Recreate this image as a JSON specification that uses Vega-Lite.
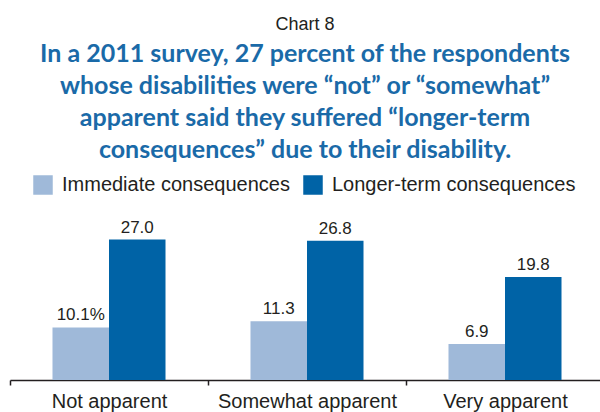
{
  "$schema": "https://vega.github.io/schema/vega-lite/v6.json",
  "autosize": {"type": "none"},
  "padding": {"left": 10, "top": 224, "right": 0, "bottom": 32},
  "width": 590,
  "height": 156,
  "background": "white",
  "title": {
    "text": "Chart 8",
    "subtitle": ["In a 2011 survey, 27 percent of the respondents", "whose disabilities were “not” or “somewhat”", "apparent said they suffered “longer-term", "consequences” due to their disability."],
    "anchor": "middle",
    "frame": "group",
    "font": "Liberation Sans",
    "fontSize": 18,
    "fontWeight": "normal",
    "color": "#231f20",
    "subtitleFont": "Lato",
    "subtitleFontSize": 25,
    "subtitleFontWeight": "bold",
    "subtitleColor": "#1a6aa8",
    "subtitleLineHeight": 32,
    "subtitlePadding": 8,
    "offset": 12
  },
  "data": {
    "values": [
      {"group": "Not apparent", "series": "Immediate consequences", "value": 10.1, "label": "10.1%"},
      {"group": "Not apparent", "series": "Longer-term consequences", "value": 27.0, "label": "27.0"},
      {"group": "Somewhat apparent", "series": "Immediate consequences", "value": 11.3, "label": "11.3"},
      {"group": "Somewhat apparent", "series": "Longer-term consequences", "value": 26.8, "label": "26.8"},
      {"group": "Very apparent", "series": "Immediate consequences", "value": 6.9, "label": "6.9"},
      {"group": "Very apparent", "series": "Longer-term consequences", "value": 19.8, "label": "19.8"}
    ]
  },
  "encoding": {
    "x": {
      "field": "group",
      "type": "nominal",
      "sort": ["Not apparent", "Somewhat apparent", "Very apparent"],
      "scale": {"range": [0, 594], "paddingInner": 0, "paddingOuter": 0},
      "axis": {
        "title": null,
        "labelAngle": 0,
        "tickBand": "extent",
        "domainColor": "#231f20",
        "domainWidth": 1.5,
        "tickColor": "#231f20",
        "tickWidth": 1.5,
        "tickSize": 5,
        "labelFont": "Liberation Sans",
        "labelFontSize": 20,
        "labelColor": "#231f20",
        "labelPadding": 6,
        "grid": false
      }
    },
    "xOffset": {
      "field": "series",
      "type": "nominal",
      "sort": ["Immediate consequences", "Longer-term consequences"],
      "scale": {"paddingInner": 0, "paddingOuter": 0.752}
    },
    "y": {
      "field": "value",
      "type": "quantitative",
      "scale": {"domain": [0, 30]},
      "axis": null
    }
  },
  "layer": [
    {
      "mark": {"type": "bar"},
      "encoding": {
        "color": {
          "field": "series",
          "type": "nominal",
          "scale": {"domain": ["Immediate consequences", "Longer-term consequences"], "range": ["#9fb9d9", "#0063a6"]},
          "legend": {
            "title": null,
            "orient": "none",
            "legendX": 23,
            "legendY": -49,
            "direction": "horizontal",
            "symbolType": "square",
            "symbolSize": 380,
            "symbolStrokeWidth": 0,
            "labelFont": "Liberation Sans",
            "labelFontSize": 20,
            "labelColor": "#231f20",
            "labelOffset": 9,
            "labelLimit": 400,
            "columnPadding": 13
          }
        }
      }
    },
    {
      "mark": {"type": "text", "baseline": "alphabetic", "dy": -7, "font": "Liberation Sans", "fontSize": 17, "color": "#231f20"},
      "encoding": {"text": {"field": "label"}}
    }
  ],
  "config": {"view": {"stroke": null}}
}
